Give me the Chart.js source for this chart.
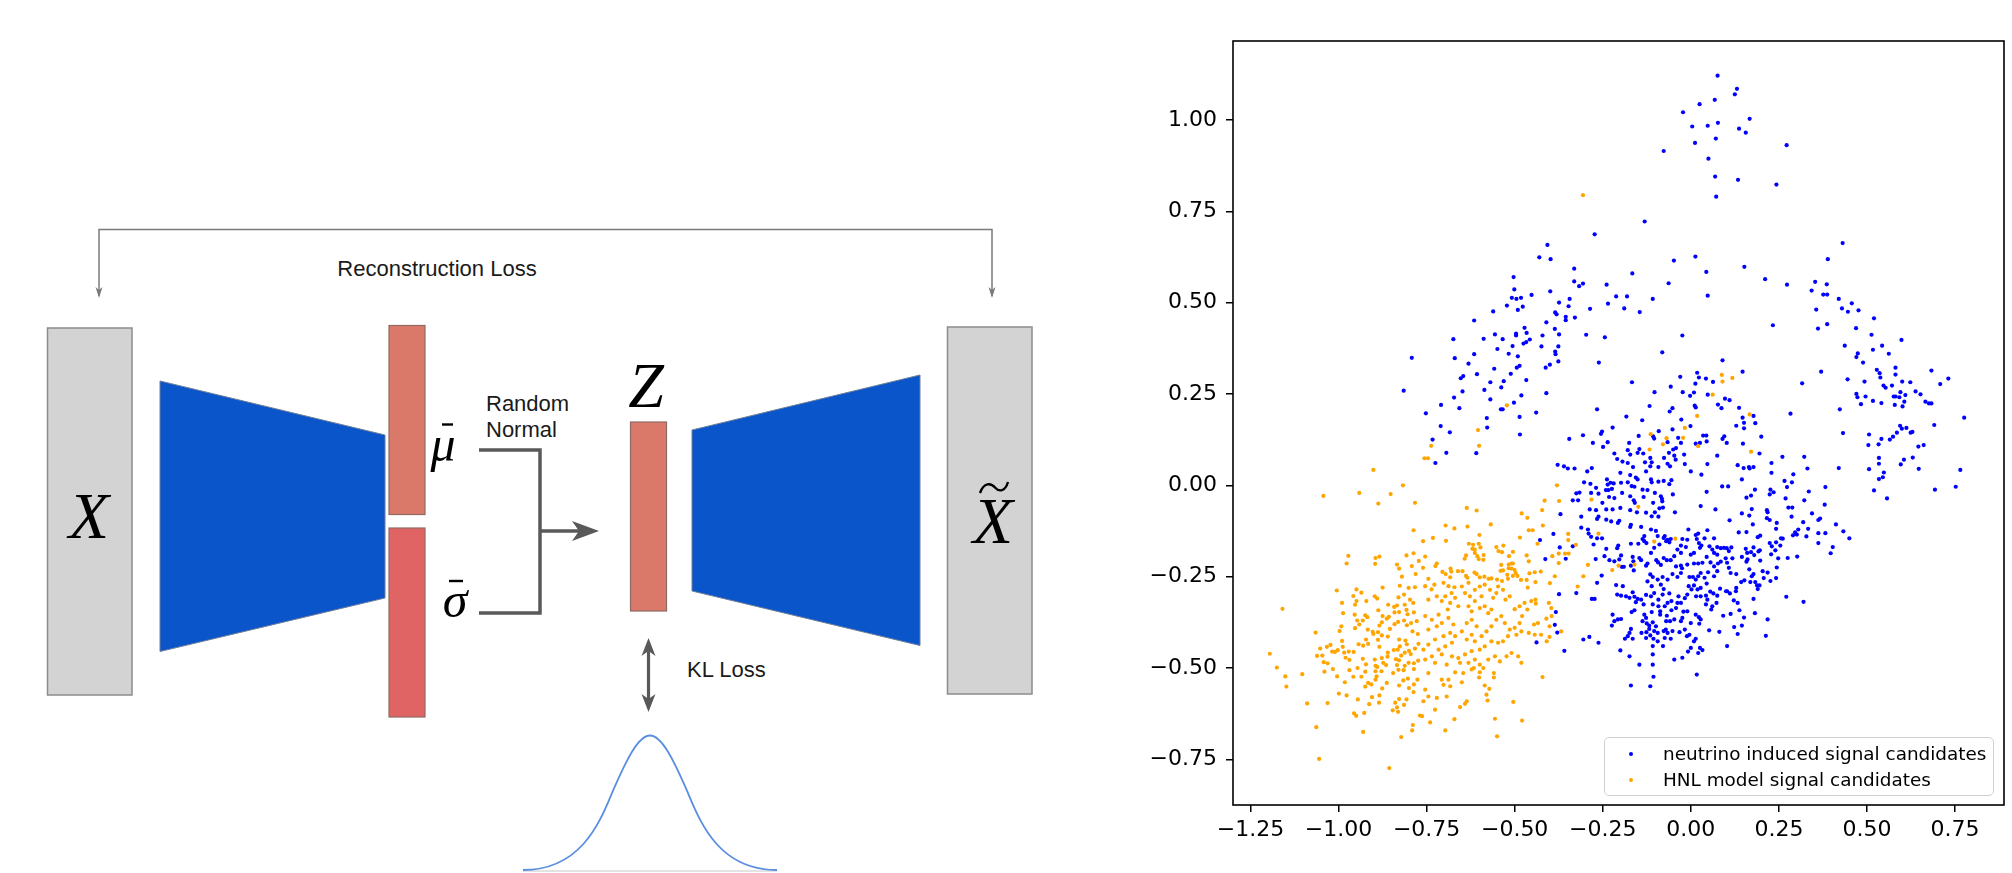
<!DOCTYPE html>
<html>
<head>
<meta charset="utf-8">
<script src="https://cdn.jsdelivr.net/npm/chart.js@4.4.0/dist/chart.umd.min.js"></script>
<style>
  body { margin: 0; background: #fff; width: 2012px; height: 873px; overflow: hidden; position: relative; }
  #diagram { position: absolute; left: 0; top: 0; }
  #plot { position: absolute; left: 1140px; top: 0; }
  #legend {
    position: absolute; left: 1604px; top: 737px; width: 388px; height: 57px;
    border: 1.5px solid #d0d0d0; border-radius: 5px; background: rgba(255,255,255,0.8);
    font-family: 'DejaVu Sans', sans-serif; font-size: 18.4px; color: #000;
  }
  #legend .row { position: absolute; left: 0; height: 22px; line-height: 22px; white-space: nowrap; }
  #legend .dot { position: absolute; left: 24px; top: 9px; width: 4px; height: 4px; border-radius: 50%; }
  #legend .lbl { position: absolute; left: 58px; top: 0; }
</style>
</head>
<body>

<svg id="diagram" width="1140" height="873" xmlns="http://www.w3.org/2000/svg">
  <!-- reconstruction loss bracket -->
  <polyline points="99,296 99,229.5 992,229.5 992,296" fill="none" stroke="#7a7a7a" stroke-width="1.5"/>
  <polygon points="95.5,287 99,298 102.5,287 99,290" fill="#7a7a7a"/>
  <polygon points="988.5,287 992,298 995.5,287 992,290" fill="#7a7a7a"/>
  <text x="437" y="276" font-family="Liberation Sans, Arial, sans-serif" font-size="22" text-anchor="middle" fill="#1a1a1a">Reconstruction Loss</text>

  <!-- input -->
  <rect x="47.5" y="328" width="84.5" height="367" fill="#d3d3d3" stroke="#8c8c8c" stroke-width="1.5"/>
  <text x="89" y="538" font-family="Liberation Serif, serif" font-style="italic" font-size="66" text-anchor="middle" fill="#000">X</text>

  <!-- encoder -->
  <polygon points="160,381 385,435 385,598 160,651.5" fill="#0b55cb" stroke="#6f7f99" stroke-width="1"/>

  <!-- mu / sigma -->
  <rect x="389" y="325.5" width="36" height="189" fill="#da7869" stroke="#8f6a64" stroke-width="1.2"/>
  <rect x="389" y="528" width="36" height="189" fill="#e06464" stroke="#8f6a64" stroke-width="1.2"/>
  <text x="443" y="461" font-family="Liberation Serif, serif" font-style="italic" font-size="50" text-anchor="middle" fill="#000">μ</text>
  <line x1="442" y1="424.5" x2="453" y2="424.5" stroke="#000" stroke-width="2.4"/>
  <text x="455" y="617" font-family="Liberation Serif, serif" font-style="italic" font-size="50" text-anchor="middle" fill="#000">σ</text>
  <line x1="449" y1="581" x2="463" y2="581" stroke="#000" stroke-width="2.4"/>

  <text x="486" y="410.5" font-family="Liberation Sans, Arial, sans-serif" font-size="22" fill="#1a1a1a">Random</text>
  <text x="486" y="436.5" font-family="Liberation Sans, Arial, sans-serif" font-size="22" fill="#1a1a1a">Normal</text>

  <polyline points="479,450 540,450 540,613 479,613" fill="none" stroke="#595959" stroke-width="3.5"/>
  <line x1="540" y1="531" x2="588" y2="531" stroke="#595959" stroke-width="3.5"/>
  <polygon points="599,531 572,521 579,531 572,541" fill="#595959"/>

  <!-- latent -->
  <rect x="630.5" y="422" width="36" height="189" fill="#da7869" stroke="#8f6a64" stroke-width="1.2"/>
  <text x="646" y="407" font-family="Liberation Serif, serif" font-style="italic" font-size="64" text-anchor="middle" fill="#000">Z</text>

  <!-- decoder -->
  <polygon points="692,430 920,375 920,645.5 692,591" fill="#0b55cb" stroke="#6f7f99" stroke-width="1"/>

  <!-- output -->
  <rect x="947.5" y="327" width="84.5" height="367" fill="#d3d3d3" stroke="#8c8c8c" stroke-width="1.5"/>
  <text x="993" y="543" font-family="Liberation Serif, serif" font-style="italic" font-size="66" text-anchor="middle" fill="#000">X</text>
  <path d="M980,493 C984,482 991,483 995,487.5 C999,492 1005,492 1008,482" fill="none" stroke="#000" stroke-width="2.4"/>

  <!-- KL loss -->
  <line x1="648.5" y1="648" x2="648.5" y2="702" stroke="#595959" stroke-width="3.2"/>
  <polygon points="648.5,638 641.5,656 648.5,651 655.5,656" fill="#595959"/>
  <polygon points="648.5,712 641.5,694 648.5,699 655.5,694" fill="#595959"/>
  <text x="687" y="677" font-family="Liberation Sans, Arial, sans-serif" font-size="22" fill="#1a1a1a">KL Loss</text>

  <!-- prior -->
  <line x1="523" y1="871" x2="777" y2="871" stroke="#e3e3e3" stroke-width="2"/>
  <path d="M523,870 C585,870 602,815.6 614,788.4 C626,761.2 638,735.5 650,735.5 C662,735.5 674,761.2 686,788.4 C698,815.6 715,870 777,870"
        fill="none" stroke="#5a8ee0" stroke-width="1.8"/>
</svg>

<canvas id="plot" width="872" height="873"></canvas>

<div id="legend">
  <div class="row" style="top:5px;width:100%"><span class="dot" style="background:#0000ff"></span><span class="lbl">neutrino induced signal candidates</span></div>
  <div class="row" style="top:31px;width:100%"><span class="dot" style="background:#ffa500"></span><span class="lbl">HNL model signal candidates</span></div>
</div>

<script>
// Axis setup
const xRange = [-1.2995, 0.889];
const yRange = [-0.875, 1.216];
const xTicks = [-1.25, -1.00, -0.75, -0.50, -0.25, 0.00, 0.25, 0.50, 0.75];
const yTicks = [-0.75, -0.50, -0.25, 0.00, 0.25, 0.50, 0.75, 1.00];
const seriesLabels = ['neutrino induced signal candidates', 'HNL model signal candidates'];
const seriesColors = ['#0000ff', '#ffa500'];

// neutrino induced signal candidates
const neutrinoPts = [
  [-0.273,0.687],[-0.407,0.658],[-0.430,0.624],[-0.398,0.619],[-0.331,0.593],[-0.166,0.580],[-0.331,0.558],[-0.306,0.552],
  [-0.317,0.545],[-0.239,0.549],[-0.503,0.570],[-0.501,0.536],[-0.399,0.531],[-0.508,0.513],[-0.495,0.510],[-0.482,0.513],
  [-0.452,0.521],[-0.374,0.500],[-0.344,0.510],[-0.347,0.490],[-0.212,0.517],[-0.181,0.517],[-0.235,0.497],[-0.189,0.484],
  [-0.286,0.483],[-0.522,0.492],[-0.477,0.489],[-0.491,0.480],[-0.561,0.476],[-0.385,0.473],[-0.381,0.468],[-0.355,0.461],
  [-0.355,0.452],[-0.329,0.459],[-0.615,0.451],[-0.410,0.446],[-0.472,0.431],[-0.386,0.428],[-0.466,0.417],[-0.496,0.415],
  [-0.496,0.410],[-0.556,0.413],[-0.534,0.400],[-0.588,0.401],[-0.674,0.400],[-0.421,0.410],[-0.374,0.413],[-0.297,0.412],
  [-0.244,0.405],[-0.457,0.399],[-0.467,0.392],[-0.475,0.388],[-0.506,0.381],[-0.424,0.380],[-0.376,0.380],[-0.549,0.373],
  [-0.385,0.366],[-0.384,0.359],[-0.517,0.360],[-0.491,0.353],[-0.615,0.359],[-0.670,0.348],[-0.792,0.349],[-0.376,0.339],
  [-0.261,0.336],[-0.631,0.333],[-0.486,0.327],[-0.494,0.322],[-0.558,0.319],[-0.400,0.330],[-0.412,0.322],[-0.607,0.304],
  [-0.646,0.299],[-0.653,0.293],[-0.511,0.305],[-0.467,0.288],[-0.531,0.285],[-0.569,0.282],[-0.167,0.282],[-0.538,0.268],
  [-0.586,0.261],[-0.648,0.257],[-0.815,0.259],[-0.410,0.252],[-0.481,0.246],[-0.672,0.240],[-0.569,0.235],[-0.502,0.226],
  [-0.709,0.220],[-0.657,0.211],[-0.539,0.208],[-0.534,0.208],[-0.439,0.199],[-0.266,0.208],[-0.752,0.197],[-0.579,0.184],
  [-0.486,0.187],[-0.183,0.188],[-0.710,0.162],[-0.578,0.158],[-0.684,0.145],[-0.222,0.158],[-0.252,0.147],[-0.255,0.141],
  [-0.485,0.139],[-0.306,0.137],[-0.345,0.127],[-0.733,0.125],
  [0.076,1.121],[0.131,1.085],[0.125,1.070],[0.068,1.055],[0.025,1.043],[-0.022,1.021],[0.167,1.003],[0.077,0.992],
  [0.048,0.984],[0.004,0.982],[0.137,0.976],[0.156,0.965],[0.071,0.949],[0.012,0.937],[0.272,0.931],[-0.077,0.915],
  [0.050,0.894],[0.069,0.845],[0.134,0.836],[0.243,0.823],[0.072,0.790],[-0.131,0.722],[0.431,0.663],[0.389,0.619],
  [-0.048,0.615],[0.013,0.626],[0.152,0.598],[0.044,0.584],[0.211,0.564],[-0.063,0.553],[0.273,0.549],[0.353,0.557],
  [0.386,0.550],[0.343,0.533],[0.376,0.522],[0.387,0.522],[-0.108,0.510],[0.048,0.519],[-0.145,0.474],[0.420,0.510],
  [0.457,0.498],[0.429,0.484],[0.446,0.475],[0.476,0.479],[0.356,0.481],[0.520,0.457],[0.387,0.441],[0.361,0.429],
  [0.469,0.430],[0.233,0.438],[-0.024,0.410],[0.513,0.412],[0.598,0.398],[0.437,0.382],[0.543,0.382],[0.517,0.371],
  [0.562,0.360],[0.474,0.361],[0.470,0.351],[0.489,0.336],[-0.081,0.364],[0.090,0.342],[0.581,0.322],[0.528,0.316],
  [0.536,0.307],[0.581,0.303],[0.538,0.295],[0.683,0.314],[0.731,0.292],[0.708,0.277],[0.370,0.311],[0.445,0.290],
  [0.493,0.284],[0.600,0.284],[0.623,0.282],[0.547,0.273],[0.553,0.267],[0.571,0.273],[0.316,0.279],[0.638,0.257],
  [0.652,0.249],[0.595,0.255],[0.609,0.247],[0.576,0.243],[0.581,0.243],[0.592,0.241],[0.470,0.250],[0.473,0.241],
  [0.496,0.243],[0.517,0.231],[0.541,0.225],[0.606,0.229],[0.579,0.220],[0.601,0.216],[0.483,0.222],[0.666,0.229],
  [0.676,0.224],[0.683,0.224],[0.423,0.208],[0.776,0.185],[0.691,0.165],[0.283,0.196],[0.432,0.143],[0.506,0.139],
  [0.594,0.163],[0.599,0.155],[0.612,0.157],[0.585,0.144],[0.624,0.144],[0.629,0.146],[0.574,0.133],[0.541,0.127],
  [0.565,0.125],
  [0.018,0.308],[-0.030,0.297],[0.023,0.295],[0.043,0.292],[0.063,0.283],[0.013,0.278],[0.147,0.311],[-0.057,0.270],
  [-0.103,0.255],[-0.023,0.255],[0.009,0.254],[-0.002,0.245],[0.048,0.248],[0.097,0.237],[0.110,0.233],[0.077,0.221],
  [0.087,0.211],[0.011,0.218],[0.014,0.213],[-0.117,0.217],[-0.052,0.211],[-0.060,0.202],[0.137,0.212],[0.178,0.190],
  [0.147,0.185],[-0.027,0.180],[-0.138,0.178],[0.151,0.171],[0.183,0.170],[-0.001,0.162],[0.129,0.163],[0.151,0.156],
  [-0.052,0.153],[-0.091,0.148],[-0.148,0.135],[-0.107,0.134],[-0.104,0.128],[-0.036,0.130],[0.035,0.136],[0.044,0.136],
  [0.095,0.134],[0.090,0.127],[0.200,0.133],
  [-0.694,0.089],[-0.609,0.088],[-0.725,0.061],[-0.378,0.056],[-0.360,0.052],[-0.349,0.046],[-0.330,0.046],[-0.325,-0.022],
  [-0.316,-0.020],[-0.335,-0.041],[-0.320,-0.041],[-0.370,-0.079],[-0.390,-0.133],[-0.428,-0.150],[-0.372,-0.170],[-0.335,-0.167],
  [-0.413,-0.202],[-0.355,-0.201],[-0.374,-0.298],[-0.325,-0.295],[-0.383,-0.347],[-0.386,-0.382],[-0.379,-0.403],[-0.438,-0.430],
  [-0.359,-0.453],
  [-0.278,0.116],[-0.249,0.105],[-0.236,0.118],[-0.175,0.116],[-0.146,0.099],[-0.135,0.087],[-0.179,0.096],[-0.172,0.084],
  [-0.151,0.089],[-0.217,0.087],[-0.209,0.072],[-0.194,0.065],[-0.179,0.061],[-0.164,0.050],[-0.130,0.063],[-0.115,0.075],
  [-0.111,0.063],[-0.115,0.052],[-0.092,0.050],[-0.076,0.075],[-0.062,0.089],[-0.050,0.098],[-0.042,0.102],[-0.047,0.081],
  [-0.043,0.070],[-0.066,0.059],[-0.059,0.052],[-0.028,0.116],[-0.066,0.118],[-0.019,0.084],[-0.017,0.058],[0.000,0.038],
  [0.014,0.114],[0.026,0.116],[0.045,0.120],[0.075,0.081],[0.102,0.116],[0.047,0.058],[0.030,0.029],[0.045,-0.018],
  [0.089,-0.003],[0.106,-0.003],[0.070,-0.066],[0.028,-0.057],[0.110,-0.096],
  [-0.294,0.038],[-0.281,0.047],[-0.200,0.034],[-0.172,0.028],[-0.156,0.021],[-0.151,0.016],[-0.127,0.038],[-0.113,0.016],
  [-0.111,0.008],[-0.092,0.010],[-0.077,0.012],[-0.055,0.014],[-0.061,0.003],[-0.051,-0.025],[-0.303,0.008],[-0.285,0.004],
  [-0.269,-0.007],[-0.283,-0.021],[-0.262,-0.023],[-0.241,-0.013],[-0.236,0.002],[-0.228,0.007],[-0.219,0.005],[-0.238,0.016],
  [-0.234,-0.013],[-0.224,-0.010],[-0.198,0.007],[-0.179,0.008],[-0.168,-0.002],[-0.160,-0.004],[-0.137,-0.012],[-0.123,-0.013],
  [-0.102,-0.021],[-0.085,-0.030],[-0.081,-0.044],[-0.082,-0.037],[-0.107,-0.048],[-0.134,-0.032],[-0.162,-0.041],[-0.159,-0.048],
  [-0.172,-0.030],[-0.195,-0.021],[-0.217,-0.035],[-0.232,-0.032],[-0.251,-0.048],[-0.287,-0.066],[-0.269,-0.068],[-0.240,-0.066],
  [-0.222,-0.066],[-0.200,-0.062],[-0.172,-0.068],[-0.153,-0.074],[-0.127,-0.075],[-0.111,-0.085],[-0.102,-0.074],[-0.089,-0.063],
  [-0.092,-0.086],[-0.079,-0.061],[-0.045,-0.074],[-0.262,-0.086],[-0.266,-0.092],[-0.240,-0.094],[-0.226,-0.099],[-0.207,-0.103],
  [-0.203,-0.097],[-0.172,-0.114],[-0.170,-0.108],[-0.141,-0.114],[-0.113,-0.121],[-0.311,-0.086],[-0.311,-0.116],[-0.292,-0.121],
  [-0.290,-0.132],[-0.283,-0.141],[-0.266,-0.145],[-0.252,-0.145],[-0.276,-0.162],[-0.240,-0.174],[-0.209,-0.172],[-0.206,-0.165],
  [-0.099,-0.125],[-0.094,-0.139],[-0.066,-0.149],[-0.057,-0.147],[-0.074,-0.139],[-0.132,-0.139],[-0.137,-0.147],[-0.132,-0.153],
  [-0.170,-0.160],[-0.149,-0.160],[-0.126,-0.158],[-0.104,-0.171],[-0.089,-0.162],[-0.077,-0.144],[-0.070,-0.153],[-0.061,-0.156],
  [-0.024,-0.147],[-0.007,-0.121],[0.021,-0.132],[0.014,-0.136],[0.017,-0.147],[-0.010,-0.149],[-0.028,-0.165],[-0.014,-0.169],
  [-0.038,-0.176],[-0.028,-0.185],[-0.047,-0.194],[-0.057,-0.205],[0.023,-0.158],[0.026,-0.171],[0.030,-0.165],[0.009,-0.185],
  [0.000,-0.190],[0.039,-0.145],[0.047,-0.123],[0.066,-0.145],[0.053,-0.167],[0.061,-0.176],[0.066,-0.185],[0.075,-0.169],
  [0.085,-0.172],[0.094,-0.171],[0.102,-0.172],[0.108,-0.180],[0.075,-0.190],[0.045,-0.196],[0.033,-0.212],[0.021,-0.214],
  [0.009,-0.214],[-0.010,-0.217],[-0.028,-0.220],[-0.042,-0.222],[-0.068,-0.205],[-0.077,-0.199],[-0.093,-0.211],[-0.085,-0.218],
  [-0.098,-0.205],[-0.113,-0.185],[-0.123,-0.214],[-0.127,-0.220],[-0.141,-0.205],[-0.146,-0.199],[-0.165,-0.196],[-0.163,-0.208],
  [-0.170,-0.220],[-0.198,-0.192],[-0.203,-0.203],[-0.217,-0.208],[-0.231,-0.205],[-0.245,-0.194],[-0.270,-0.202],[-0.196,-0.223],
  [-0.190,-0.223],[-0.162,-0.233],
  [0.056,-0.211],[0.066,-0.222],[0.077,-0.214],[0.085,-0.209],[0.099,-0.200],[0.103,-0.212],[0.108,-0.226],[0.075,-0.235],
  [0.066,-0.249],[0.049,-0.238],[0.039,-0.253],[0.028,-0.240],[0.021,-0.249],[0.014,-0.258],[0.006,-0.251],[-0.004,-0.251],
  [-0.006,-0.276],[0.002,-0.285],[0.009,-0.274],[0.019,-0.285],[0.028,-0.281],[0.045,-0.269],[0.055,-0.291],[0.064,-0.296],
  [0.075,-0.302],[0.083,-0.283],[0.100,-0.290],[0.113,-0.240],[0.111,-0.296],[0.043,-0.302],[0.028,-0.304],[0.047,-0.313],
  [0.043,-0.326],[0.061,-0.331],[0.073,-0.322],[0.058,-0.340],[0.015,-0.304],[-0.010,-0.299],[-0.017,-0.309],[-0.035,-0.304],
  [-0.038,-0.322],[-0.042,-0.336],[-0.028,-0.322],[-0.052,-0.243],[-0.038,-0.251],[-0.028,-0.240],[-0.025,-0.227],[-0.066,-0.258],
  [-0.080,-0.251],[-0.085,-0.272],[-0.094,-0.258],[-0.108,-0.251],[-0.115,-0.244],[-0.123,-0.263],[-0.111,-0.276],[-0.104,-0.295],
  [-0.113,-0.304],[-0.127,-0.300],[-0.141,-0.313],[-0.134,-0.326],[-0.151,-0.311],[-0.156,-0.320],[-0.165,-0.293],[-0.160,-0.305],
  [-0.174,-0.308],[-0.184,-0.304],[-0.198,-0.302],[-0.209,-0.299],[-0.193,-0.276],[-0.212,-0.273],[-0.266,-0.267],[-0.253,-0.247],
  [-0.281,-0.311],[-0.080,-0.299],[-0.077,-0.284],[-0.066,-0.322],[-0.055,-0.317],[-0.061,-0.296],[-0.092,-0.313],[-0.108,-0.326],
  [-0.092,-0.331],[-0.074,-0.331],[-0.055,-0.342],[-0.021,-0.346],[-0.010,-0.345],[0.014,-0.354],[0.023,-0.361],[0.092,-0.357],
  [0.103,-0.290],
  [-0.168,-0.347],[-0.160,-0.342],[-0.132,-0.354],[-0.127,-0.363],[-0.111,-0.347],[-0.087,-0.345],[-0.087,-0.354],[-0.068,-0.357],
  [-0.070,-0.372],[-0.059,-0.372],[-0.047,-0.367],[-0.028,-0.372],[-0.024,-0.363],[0.000,-0.377],[0.024,-0.379],[0.028,-0.367],
  [0.052,-0.397],[0.081,-0.401],[0.103,-0.440],[-0.222,-0.354],[-0.207,-0.367],[-0.198,-0.366],[-0.217,-0.372],[-0.224,-0.384],
  [-0.137,-0.372],[-0.125,-0.378],[-0.118,-0.384],[-0.108,-0.375],[-0.099,-0.386],[-0.094,-0.404],[-0.104,-0.399],[-0.118,-0.393],
  [-0.126,-0.402],[-0.140,-0.404],[-0.115,-0.411],[-0.127,-0.418],[-0.106,-0.420],[-0.094,-0.427],[-0.077,-0.399],[-0.071,-0.395],
  [-0.066,-0.404],[-0.052,-0.399],[-0.057,-0.420],[-0.074,-0.418],[-0.032,-0.402],[-0.017,-0.395],[-0.004,-0.409],[-0.011,-0.413],
  [0.014,-0.420],[0.009,-0.427],[0.000,-0.445],[-0.008,-0.455],[0.021,-0.459],[0.026,-0.445],[0.033,-0.451],[-0.170,-0.393],
  [-0.174,-0.404],[-0.179,-0.413],[-0.187,-0.420],[-0.165,-0.420],[-0.305,-0.422],[-0.288,-0.415],[-0.262,-0.431],[-0.200,-0.452],
  [-0.174,-0.468],[-0.108,-0.440],[-0.079,-0.440],[-0.108,-0.463],[-0.047,-0.477],[-0.024,-0.472],[-0.146,-0.491],[-0.108,-0.491],
  [-0.106,-0.524],[0.017,-0.518],[-0.170,-0.548],[-0.115,-0.550],[-0.273,-0.311],
  [0.148,0.114],[0.195,0.087],[0.133,0.055],[0.150,0.047],[0.165,0.050],[0.167,0.046],[0.178,0.050],[0.229,0.061],
  [0.260,0.078],[0.322,0.078],[0.331,0.046],[0.420,0.047],[0.504,0.110],[0.533,0.112],[0.506,0.044],[0.534,0.075],
  [0.534,0.059],[0.534,0.017],[0.520,-0.014],[0.229,0.034],[0.291,0.030],[0.145,0.016],[0.266,0.012],[0.287,0.008],
  [0.273,-0.005],[0.182,-0.012],[0.226,-0.012],[0.235,-0.019],[0.224,-0.025],[0.382,-0.005],[0.335,-0.017],[0.158,-0.034],
  [0.171,-0.028],[0.269,-0.036],[0.322,-0.041],[0.380,-0.053],[0.277,-0.061],[0.288,-0.061],[0.173,-0.065],[0.216,-0.068],
  [0.218,-0.074],[0.145,-0.077],[0.166,-0.083],[0.286,-0.086],[0.344,-0.077],[0.216,-0.090],[0.224,-0.095],[0.244,-0.103],
  [0.319,-0.101],[0.362,-0.095],[0.367,-0.091],[0.176,-0.107],[0.242,-0.119],[0.305,-0.121],[0.333,-0.119],[0.412,-0.107],
  [0.433,-0.126],[0.450,-0.145],[0.136,-0.129],[0.158,-0.128],[0.296,-0.129],[0.301,-0.135],[0.290,-0.137],[0.328,-0.140],
  [0.362,-0.131],[0.382,-0.131],[0.190,-0.142],[0.197,-0.138],[0.256,-0.145],[0.261,-0.146],[0.224,-0.158],[0.242,-0.156],
  [0.254,-0.165],[0.230,-0.167],[0.362,-0.158],[0.403,-0.169],[0.397,-0.186],[0.240,-0.178],[0.228,-0.189],[0.115,-0.170],
  [0.156,-0.174],[0.178,-0.170],[0.171,-0.183],[0.160,-0.185],[0.192,-0.181],[0.196,-0.178],[0.180,-0.191],[0.118,-0.200],
  [0.145,-0.196],[0.161,-0.203],[0.158,-0.209],[0.197,-0.206],[0.248,-0.200],[0.275,-0.199],[0.302,-0.195],[0.166,-0.230],
  [0.244,-0.225],[0.204,-0.235],[0.218,-0.239],[0.129,-0.243],[0.178,-0.243],[0.173,-0.249],[0.152,-0.260],[0.143,-0.265],
  [0.169,-0.265],[0.183,-0.265],[0.207,-0.254],[0.226,-0.262],[0.242,-0.254],[0.188,-0.274],[0.195,-0.274],[0.190,-0.284],
  [0.129,-0.281],[0.128,-0.290],[0.178,-0.311],[0.271,-0.305],[0.320,-0.319],[0.122,-0.315],[0.133,-0.322],[0.138,-0.342],
  [0.113,-0.352],[0.182,-0.350],[0.151,-0.362],[0.218,-0.367],[0.145,-0.384],[0.123,-0.388],[0.133,-0.407],[0.213,-0.412],
  [0.557,-0.036],[0.545,0.022],[0.548,0.035],[0.596,0.057],[0.605,0.070],[0.630,0.076],[0.647,0.045],[0.693,-0.012],
  [0.752,-0.004],[0.765,0.042],[0.646,0.106],[0.661,0.110]
];

// HNL model signal candidates
const hnlPts = [
  [-0.306,0.794],[-0.522,0.219],[-0.604,0.151],[-0.737,0.108],[-0.601,0.108],
  [0.088,0.302],[0.090,0.284],[0.118,0.294],[0.062,0.248],[0.018,0.190],[0.167,0.194],[-0.017,0.157],[-0.114,0.140],
  [-0.069,0.129],[-0.022,0.130],[0.171,0.092],
  [-0.117,0.098],[-0.079,0.112],[0.021,0.107],[-0.282,-0.039],[-0.149,-0.059],[-0.262,-0.132],[-0.104,-0.154],[-0.044,-0.146],
  [-0.292,-0.218],[-0.305,-0.249],[-0.223,-0.232],[-0.205,-0.220],[-0.160,-0.217],
  [-0.901,0.042],[-0.817,0.000],[-1.043,-0.029],[-0.941,-0.021],[-0.852,-0.024],[-0.887,-0.050],[-0.783,-0.048],[-0.787,-0.123],
  [-0.972,-0.193],[-0.977,-0.214],[-0.895,-0.199],[-0.884,-0.195],[-0.896,-0.215],[-0.807,-0.192],[-0.787,-0.186],[-0.834,-0.217],
  [-0.828,-0.228],[-0.820,-0.250],[-0.792,-0.221],[-0.781,-0.243],[-0.772,-0.207],[-1.005,-0.288],[-0.949,-0.285],[-0.935,-0.294],
  [-0.958,-0.303],[-0.897,-0.304],[-0.890,-0.310],[-0.875,-0.280],[-0.826,-0.275],[-0.801,-0.281],[-0.783,-0.279],[-0.830,-0.307],
  [-0.814,-0.299],[-0.990,-0.322],[-0.949,-0.317],[-0.953,-0.327],[-0.921,-0.317],[-0.859,-0.327],[-0.842,-0.333],[-0.834,-0.329],
  [-0.812,-0.327],[-0.807,-0.341],[-0.797,-0.313],[-0.788,-0.322],[-1.159,-0.338],[-0.987,-0.350],[-0.887,-0.342],[-0.875,-0.358],
  [-0.857,-0.360],[-0.841,-0.348],[-0.828,-0.347],[-0.804,-0.353],[-0.786,-0.348],[-0.954,-0.354],[-0.924,-0.356],[-0.918,-0.361],
  [-0.947,-0.370],[-0.931,-0.370],[-0.941,-0.381],[-0.953,-0.391],[-0.992,-0.386],[-0.997,-0.399],[-1.065,-0.403],[-0.917,-0.395],
  [-0.903,-0.401],[-0.901,-0.407],[-0.888,-0.402],[-0.884,-0.384],[-0.877,-0.375],[-0.863,-0.365],[-0.854,-0.393],[-0.841,-0.380],
  [-0.831,-0.374],[-0.814,-0.370],[-0.806,-0.383],[-0.794,-0.377],[-0.778,-0.372],[-0.790,-0.400],[-0.775,-0.407],[-0.922,-0.422],
  [-0.888,-0.423],[-0.860,-0.414],[-0.877,-0.411],[-0.828,-0.422],[-0.810,-0.425],[-0.990,-0.426],[-0.988,-0.442],[-1.023,-0.437],
  [-1.033,-0.442],[-1.052,-0.447],[-1.018,-0.455],[-1.010,-0.456],[-1.002,-0.451],[-0.943,-0.435],[-0.930,-0.439],[-0.916,-0.434],
  [-0.884,-0.442],[-0.860,-0.458],[-0.843,-0.451],[-0.832,-0.450],[-0.826,-0.441],[-0.806,-0.435],[-0.800,-0.453],[-0.783,-0.447],
  [-0.773,-0.434],[-1.195,-0.461],[-1.061,-0.467],[-1.046,-0.466],[-0.984,-0.458],[-0.971,-0.455],[-0.957,-0.456],[-0.980,-0.472],
  [-0.969,-0.478],[-0.931,-0.475],[-0.897,-0.477],[-0.877,-0.473],[-0.861,-0.469],[-0.837,-0.476],[-0.822,-0.466],[-0.812,-0.458],
  [-0.795,-0.462],[-1.042,-0.484],[-1.031,-0.487],[-0.922,-0.490],[-0.895,-0.494],[-0.890,-0.497],[-0.873,-0.486],[-0.865,-0.492],
  [-0.834,-0.492],[-0.828,-0.479],[-0.812,-0.494],[-0.801,-0.486],[-0.786,-0.487],[-0.774,-0.480],[-1.175,-0.499],[-1.040,-0.510],
  [-1.016,-0.503],[-0.969,-0.506],[-0.946,-0.500],[-0.924,-0.510],[-0.895,-0.509],[-0.878,-0.509],[-0.845,-0.514],[-0.830,-0.505],
  [-0.815,-0.506],[-0.786,-0.503],[-1.151,-0.523],[-1.103,-0.517],[-1.148,-0.551],[-1.004,-0.523],[-0.982,-0.539],[-0.958,-0.524],
  [-0.935,-0.524],[-0.924,-0.551],[-0.916,-0.541],[-0.907,-0.545],[-0.892,-0.523],[-0.895,-0.532],[-0.876,-0.556],[-0.863,-0.541],
  [-0.828,-0.548],[-0.816,-0.534],[-0.803,-0.529],[-0.800,-0.555],[-0.786,-0.545],[-0.776,-0.532],[-0.999,-0.570],[-0.977,-0.575],
  [-0.945,-0.586],[-0.905,-0.580],[-0.884,-0.575],[-0.885,-0.595],[-0.913,-0.599],[-1.089,-0.597],[-1.031,-0.596],[-0.814,-0.601],
  [-0.839,-0.595],[-0.828,-0.585],[-0.807,-0.586],[-0.787,-0.566],[-0.834,-0.608],[-0.846,-0.616],[-0.831,-0.620],[-0.956,-0.624],
  [-0.950,-0.631],[-0.927,-0.623],[-0.769,-0.630],[-1.063,-0.662],[-0.930,-0.675],[-0.789,-0.656],[-0.791,-0.671],[-0.822,-0.689],
  [-1.055,-0.749],[-0.856,-0.774],
  [-0.756,0.074],[-0.746,0.074],[-0.380,0.000],[-0.415,-0.042],[-0.374,-0.043],[-0.422,-0.068],[-0.480,-0.077],[-0.464,-0.089],
  [-0.636,-0.062],[-0.608,-0.069],[-0.568,-0.107],[-0.696,-0.110],[-0.671,-0.118],[-0.634,-0.113],[-0.420,-0.110],[-0.460,-0.123],
  [-0.449,-0.123],[-0.600,-0.136],[-0.485,-0.143],[-0.435,-0.160],[-0.348,-0.133],[-0.348,-0.150],[-0.326,-0.163],[-0.732,-0.144],
  [-0.695,-0.152],[-0.760,-0.153],[-0.630,-0.160],[-0.618,-0.163],[-0.620,-0.174],[-0.602,-0.160],[-0.597,-0.170],[-0.552,-0.169],
  [-0.532,-0.165],[-0.536,-0.183],[-0.546,-0.180],[-0.505,-0.182],[-0.516,-0.194],[-0.505,-0.214],[-0.613,-0.176],[-0.613,-0.185],
  [-0.606,-0.194],[-0.602,-0.202],[-0.638,-0.192],[-0.642,-0.201],[-0.588,-0.191],[-0.589,-0.204],[-0.466,-0.192],[-0.460,-0.208],
  [-0.375,-0.187],[-0.357,-0.187],[-0.347,-0.187],[-0.393,-0.194],[-0.375,-0.213],[-0.754,-0.195],[-0.721,-0.214],[-0.725,-0.221],
  [-0.760,-0.226],[-0.705,-0.237],[-0.696,-0.243],[-0.682,-0.228],[-0.680,-0.236],[-0.683,-0.252],[-0.661,-0.235],[-0.648,-0.235],
  [-0.638,-0.248],[-0.634,-0.253],[-0.614,-0.239],[-0.608,-0.243],[-0.586,-0.250],[-0.599,-0.252],[-0.574,-0.256],[-0.566,-0.255],
  [-0.538,-0.218],[-0.533,-0.233],[-0.540,-0.234],[-0.517,-0.217],[-0.509,-0.214],[-0.517,-0.227],[-0.509,-0.228],[-0.500,-0.232],
  [-0.497,-0.240],[-0.521,-0.245],[-0.519,-0.256],[-0.505,-0.248],[-0.492,-0.248],[-0.550,-0.258],[-0.536,-0.262],[-0.482,-0.259],
  [-0.458,-0.241],[-0.443,-0.238],[-0.426,-0.236],[-0.466,-0.259],[-0.463,-0.280],[-0.441,-0.265],[-0.386,-0.249],[-0.400,-0.268],
  [-0.321,-0.277],[-0.745,-0.256],[-0.728,-0.272],[-0.736,-0.285],[-0.754,-0.276],[-0.721,-0.304],[-0.745,-0.313],[-0.702,-0.267],
  [-0.688,-0.276],[-0.671,-0.279],[-0.679,-0.295],[-0.697,-0.304],[-0.707,-0.317],[-0.683,-0.322],[-0.669,-0.308],[-0.660,-0.331],
  [-0.690,-0.340],[-0.650,-0.277],[-0.631,-0.267],[-0.641,-0.295],[-0.627,-0.304],[-0.613,-0.286],[-0.599,-0.277],[-0.585,-0.272],
  [-0.594,-0.304],[-0.613,-0.317],[-0.631,-0.331],[-0.622,-0.345],[-0.599,-0.336],[-0.585,-0.331],[-0.575,-0.350],[-0.566,-0.340],
  [-0.561,-0.308],[-0.552,-0.295],[-0.570,-0.286],[-0.547,-0.277],[-0.533,-0.286],[-0.526,-0.313],[-0.514,-0.304],[-0.500,-0.339],
  [-0.486,-0.331],[-0.479,-0.358],[-0.472,-0.322],[-0.464,-0.340],[-0.453,-0.317],[-0.441,-0.313],[-0.440,-0.324],[-0.403,-0.322],
  [-0.396,-0.336],[-0.395,-0.358],[-0.410,-0.365],[-0.401,-0.386],[-0.445,-0.381],[-0.434,-0.377],[-0.460,-0.404],[-0.443,-0.409],
  [-0.425,-0.409],[-0.409,-0.427],[-0.401,-0.415],[-0.368,-0.400],
  [-0.754,-0.358],[-0.735,-0.368],[-0.716,-0.354],[-0.721,-0.386],[-0.745,-0.395],[-0.707,-0.377],[-0.688,-0.363],[-0.674,-0.381],
  [-0.683,-0.404],[-0.702,-0.413],[-0.726,-0.422],[-0.745,-0.436],[-0.759,-0.450],[-0.716,-0.450],[-0.697,-0.441],[-0.678,-0.431],
  [-0.669,-0.413],[-0.650,-0.400],[-0.636,-0.377],[-0.622,-0.368],[-0.608,-0.386],[-0.622,-0.409],[-0.636,-0.422],[-0.613,-0.427],
  [-0.594,-0.413],[-0.580,-0.400],[-0.566,-0.386],[-0.552,-0.368],[-0.538,-0.358],[-0.528,-0.377],[-0.514,-0.395],[-0.500,-0.390],
  [-0.486,-0.377],[-0.481,-0.400],[-0.495,-0.409],[-0.519,-0.413],[-0.533,-0.427],[-0.547,-0.431],[-0.566,-0.427],[-0.585,-0.441],
  [-0.599,-0.450],[-0.622,-0.454],[-0.641,-0.463],[-0.660,-0.473],[-0.678,-0.468],[-0.707,-0.463],[-0.735,-0.468],[-0.754,-0.477],
  [-0.726,-0.486],[-0.693,-0.491],[-0.655,-0.486],[-0.631,-0.486],[-0.613,-0.477],[-0.599,-0.491],[-0.575,-0.477],[-0.556,-0.468],
  [-0.542,-0.482],[-0.523,-0.468],[-0.509,-0.459],[-0.490,-0.468],[-0.481,-0.486],[-0.589,-0.500],[-0.599,-0.512],[-0.622,-0.504],
  [-0.646,-0.514],[-0.669,-0.512],[-0.688,-0.532],[-0.707,-0.532],[-0.702,-0.546],[-0.683,-0.550],[-0.745,-0.514],[-0.754,-0.559],
  [-0.745,-0.578],[-0.721,-0.582],[-0.693,-0.578],[-0.759,-0.591],[-0.726,-0.614],[-0.763,-0.632],[-0.740,-0.649],[-0.697,-0.671],
  [-0.671,-0.640],[-0.655,-0.607],[-0.641,-0.598],[-0.636,-0.591],[-0.650,-0.539],[-0.585,-0.548],[-0.572,-0.557],[-0.580,-0.573],
  [-0.577,-0.589],[-0.559,-0.514],[-0.559,-0.526],[-0.601,-0.526],[-0.616,-0.500],[-0.421,-0.525],[-0.504,-0.593],[-0.479,-0.644],
  [-0.556,-0.639],[-0.550,-0.687]
];

function fmtTick(v) {
  return (v < 0 ? '\u2212' : '') + Math.abs(v).toFixed(2);
}

// matplotlib-style box around the axes
const framePlugin = {
  id: 'frame',
  afterDraw(chart) {
    const { ctx, chartArea: a } = chart;
    ctx.save();
    ctx.strokeStyle = '#000';
    ctx.lineWidth = 1.6;
    ctx.strokeRect(a.left, a.top, a.right - a.left, a.bottom - a.top);
    ctx.restore();
  }
};

const tickFont = { family: 'DejaVu Sans', size: 22 };

new Chart(document.getElementById('plot').getContext('2d'), {
  type: 'scatter',
  data: {
    datasets: [
      {
        label: seriesLabels[0],
        data: neutrinoPts.map(p => ({ x: p[0], y: p[1] })),
        backgroundColor: seriesColors[0],
        pointRadius: 2.1,
        pointBorderWidth: 0,
        order: 1
      },
      {
        label: seriesLabels[1],
        data: hnlPts.map(p => ({ x: p[0], y: p[1] })),
        backgroundColor: seriesColors[1],
        pointRadius: 2.1,
        pointBorderWidth: 0,
        order: 0
      }
    ]
  },
  options: {
    responsive: false,
    animation: false,
    layout: { padding: { left: 0, right: 8, top: 41, bottom: 0 } },
    plugins: { legend: { display: false }, tooltip: { enabled: false } },
    scales: {
      x: {
        type: 'linear',
        min: xRange[0],
        max: xRange[1],
        afterBuildTicks: s => { s.ticks = xTicks.map(v => ({ value: v })); },
        afterFit: s => { s.height = 68; },
        ticks: { font: tickFont, color: '#000', padding: 5, maxRotation: 0, autoSkip: false, callback: fmtTick },
        grid: { drawOnChartArea: false, tickLength: 7, color: '#000', lineWidth: 1.5 },
        border: { display: false }
      },
      y: {
        type: 'linear',
        min: yRange[0],
        max: yRange[1],
        afterBuildTicks: s => { s.ticks = yTicks.map(v => ({ value: v })); },
        afterFit: s => { s.width = 93; },
        ticks: { font: tickFont, color: '#000', padding: 9, autoSkip: false, callback: fmtTick },
        grid: { drawOnChartArea: false, tickLength: 7, color: '#000', lineWidth: 1.5 },
        border: { display: false }
      }
    }
  },
  plugins: [framePlugin]
});
</script>
</body>
</html>
